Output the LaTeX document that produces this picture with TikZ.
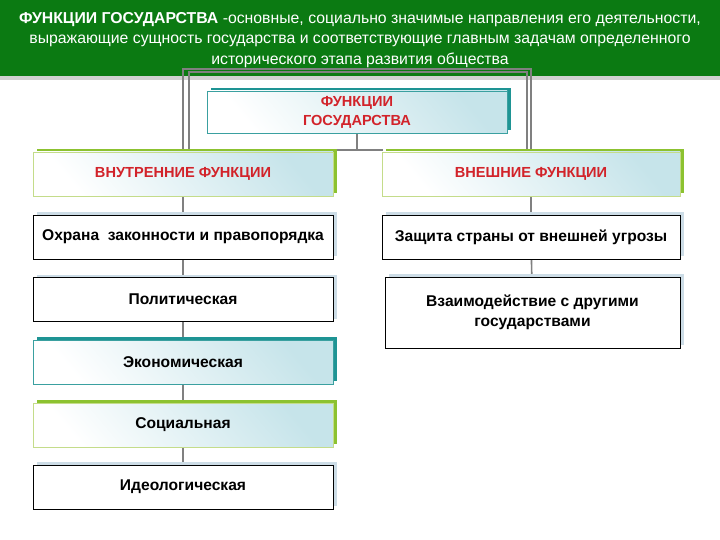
\documentclass[tikz,border=0pt]{standalone}
\usepackage{fontspec}
\setmainfont{Liberation Sans}
\usetikzlibrary{shadows,backgrounds}
\definecolor{bannergreen}{HTML}{0B7A12}
\definecolor{shgreen}{HTML}{8CC230}
\definecolor{greenborder}{HTML}{C4DC8A}
\definecolor{shteal}{HTML}{1E9494}
\definecolor{tealborder}{HTML}{3AA0A0}
\definecolor{shlight}{HTML}{CCDCE6}
\definecolor{gradblue}{HTML}{C6E4EA}
\definecolor{titlered}{HTML}{D2232A}
\definecolor{linegrey}{HTML}{808080}
\begin{document}
\begin{tikzpicture}[x=1pt,y=-1pt,
  boxbase/.style={minimum width=300pt, minimum height=44pt, inner sep=2pt, align=center},
  redtext/.style={text=titlered, font=\fontsize{14.6}{19}\selectfont\bfseries},
  blacktext/.style={text=black, font=\fontsize{15.6}{20}\selectfont\bfseries},
  gradfill/.style={top color=gradblue, bottom color=white, shading angle=-50},
  greenbox/.style={boxbase, draw=greenborder, line width=0.8pt, gradfill,
    general shadow={fill=shgreen, shadow xshift=4pt, shadow yshift=3pt}},
  tealbox/.style={boxbase, draw=tealborder, line width=0.8pt, gradfill,
    general shadow={fill=shteal, shadow xshift=4pt, shadow yshift=3pt}},
  whitebox/.style={boxbase, draw=black, line width=0.9pt, fill=white,
    general shadow={fill=shlight, shadow xshift=4pt, shadow yshift=3pt}},
  conn/.style={draw=linegrey, line width=1.6pt}]
\useasboundingbox (0,0) rectangle (720,540);

% top box
\node[tealbox, minimum height=42pt, redtext] (top) at (357,112) {ФУНКЦИИ\\ГОСУДАРСТВА};

% left column
\node[greenbox, redtext] (vn) at (183,174) {ВНУТРЕННИЕ ФУНКЦИИ};
\node[whitebox, blacktext] (ox) at (183,237) {Охрана\ \ законности и правопорядка};
\node[whitebox, blacktext] (pol) at (183,299.5) {Политическая};
\node[tealbox, blacktext] (ek) at (183,362) {Экономическая};
\node[greenbox, blacktext] (soc) at (183,425) {Социальная};
\node[whitebox, blacktext] (id) at (183,487) {Идеологическая};

% right column
\node[greenbox, redtext, minimum width=298pt] (vne) at (531,174) {ВНЕШНИЕ ФУНКЦИИ};
\node[whitebox, blacktext, minimum width=298pt] (zas) at (531,237) {Защита страны от внешней угрозы};
\node[whitebox, blacktext, minimum width=295pt, minimum height=71pt] (vz) at (532.5,312.5) {Взаимодействие с другими\\государствами};

\begin{scope}[on background layer]
  \fill[white] (0,0) rectangle (720,540);
  \fill[black!18] (0,76) rectangle (720,80);
  \fill[bannergreen] (0,0) rectangle (720,76);
  \coordinate (oL) at (183,69);
  \coordinate (oR) at (531,69);
  \coordinate (iL) at (189,72);
  \coordinate (iR) at (527,72);
  \coordinate (hL) at (189,150);
  \coordinate (hR) at (383,150);
  \draw[conn] (vn.north) -- (oL) -- (oR) -- (vne.north);
  \draw[conn] (iL |- vn.north) -- (iL) -- (iR) -- (iR |- vne.north);
  \draw[conn] (top.south) -- (top.south |- hL);
  \draw[conn] (hL) -- (hR);
  \draw[conn] (vn) -- (ox) -- (pol) -- (ek) -- (soc) -- (id);
  \draw[conn] (vne) -- (zas) -- (vz);
\end{scope}

\node[text=white, align=center, font=\fontsize{15.8}{20.5}\selectfont] (banner) at (360,40)
  {\textbf{ФУНКЦИИ ГОСУДАРСТВА} -основные, социально значимые направления его деятельности,\\
   выражающие сущность государства и соответствующие главным задачам определенного\\
   исторического этапа развития общества};
\end{tikzpicture}
\end{document}
